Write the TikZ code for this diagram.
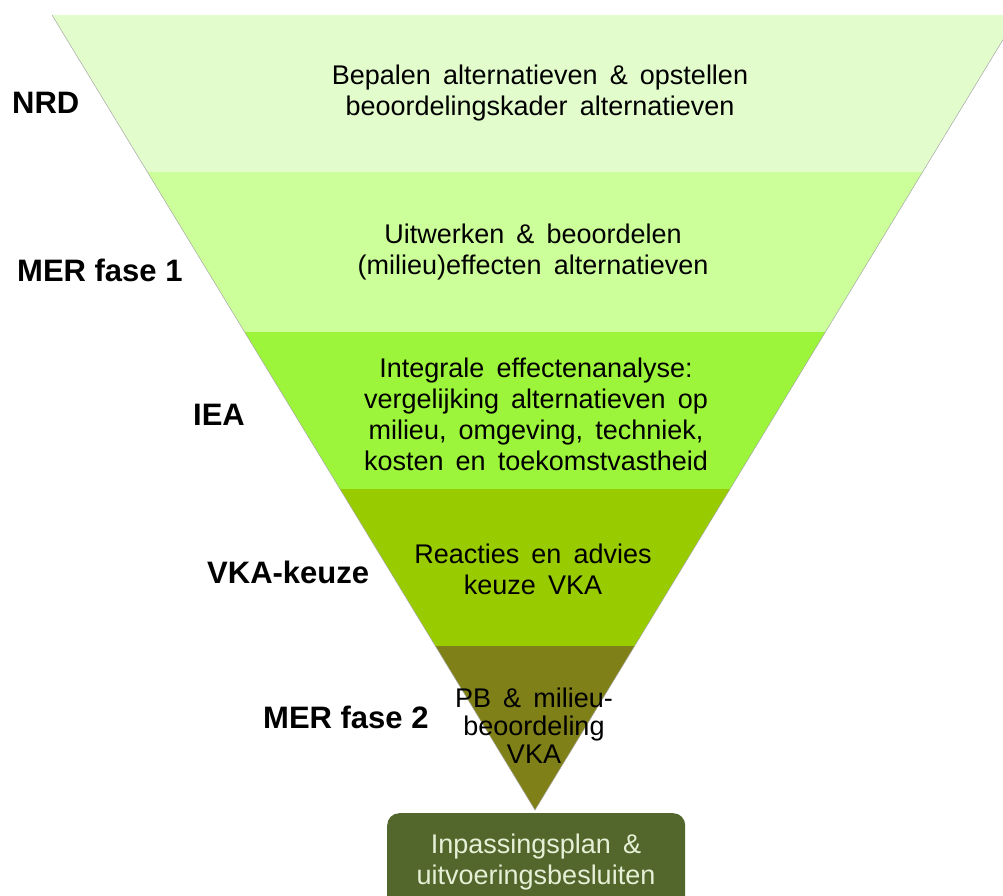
\documentclass[tikz,border=0pt]{standalone}
\usepackage{fontspec}
\setmainfont{Liberation Sans}
\definecolor{bandA}{HTML}{E2FCCB}
\definecolor{bandB}{HTML}{CCFF99}
\definecolor{bandC}{HTML}{9CF53A}
\definecolor{bandD}{HTML}{99CC00}
\definecolor{bandE}{HTML}{808018}
\definecolor{boxgreen}{HTML}{53662B}
\definecolor{boxtext}{HTML}{E6F0D6}
\newcommand{\widesp}{\spaceskip=0.45em\relax}
\begin{document}
\begin{tikzpicture}[x=1pt,y=-1pt,
  bandtext/.style={align=center,font=\fontsize{27}{31}\selectfont\widesp,text=black,inner sep=0pt},
  phase/.style={font=\fontsize{31}{36}\selectfont\bfseries,text=black,inner sep=0pt,anchor=west}]
\useasboundingbox (0,0) rectangle (1003,896);
\clip (0,0) rectangle (1003,896);
\begin{scope}
  \clip (52,15) -- (1018,15) -- (535,810) -- cycle;
  \fill[bandA] (0,15) rectangle (1030,172);
  \fill[bandB] (0,172) rectangle (1030,332);
  \fill[bandC] (0,332) rectangle (1030,489);
  \fill[bandD] (0,489) rectangle (1030,646);
  \fill[bandE] (0,646) rectangle (1030,815);
\end{scope}
\draw[gray!70,line width=0.5pt] (52,15) -- (535,810) -- (1018,15);
\node[bandtext] (t1) at (540,93) {Bepalen alternatieven \& opstellen\\beoordelingskader alternatieven};
\node[bandtext] (t2) at (533,252) {Uitwerken \& beoordelen\\(milieu)effecten alternatieven};
\node[bandtext] (t3) at (536,414) {Integrale effectenanalyse:\\vergelijking alternatieven op\\milieu, omgeving, techniek,\\kosten en toekomstvastheid};
\node[bandtext] (t4) at (533,569) {Reacties en advies\\keuze VKA};
\node[bandtext,font=\fontsize{27}{28}\selectfont\widesp] (t5) at (534,726) {PB \& milieu-\\beoordeling\\VKA};
\node[phase] (p1) at (12,103) {NRD};
\node[phase] (p2) at (17,270) {MER fase 1};
\node[phase] (p3) at (193,415) {IEA};
\node[phase] (p4) at (207,572) {VKA-keuze};
\node[phase] (p5) at (263,717) {MER fase 2};
\node[draw=none,fill=boxgreen,rounded corners=12pt,minimum width=298pt,minimum height=95pt,anchor=north west,inner sep=0pt] (box) at (387,813) {};
\node[bandtext,text=boxtext] (bt) at (536,862) {Inpassingsplan \&\\uitvoeringsbesluiten};
\end{tikzpicture}
\end{document}
